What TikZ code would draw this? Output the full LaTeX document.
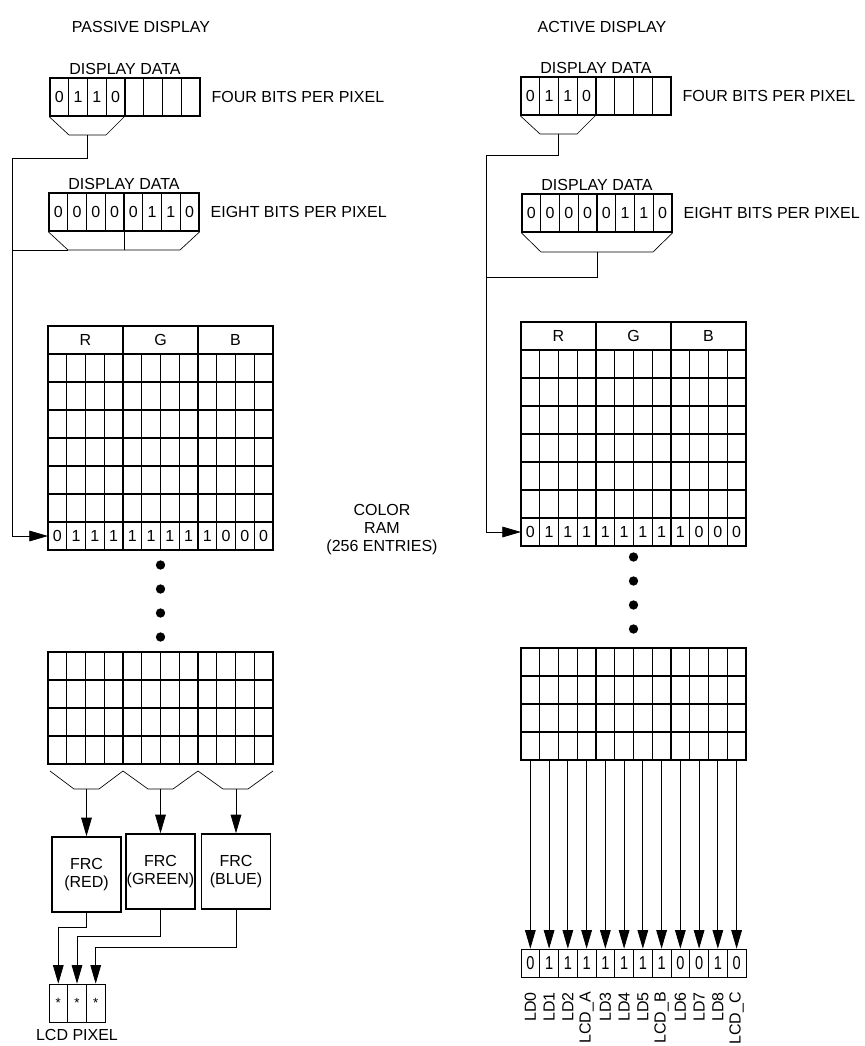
\documentclass[tikz,border=0pt]{standalone}
\usepackage{fontspec}
\setmainfont{Liberation Sans}
\newfontfamily\narrowfont[FakeStretch=0.78]{Liberation Sans}
\usetikzlibrary{arrows.meta, positioning}

\begin{document}
\begin{tikzpicture}[
  x=0.75pt, y=-0.75pt,
  txt/.style={font=\fontsize{12}{13.5}\selectfont, inner sep=0pt, align=center},
  bit/.style={font=\fontsize{12}{13}\selectfont, inner sep=0pt},
  heavy/.style={line width=1.1pt},
  fine/.style={line width=0.5pt},
  wire/.style={line width=0.6pt},
  feed/.style={wire, -{Triangle[length=14pt,width=8pt]}},
  regbox/.style={draw, heavy, inner sep=0pt, minimum width=112.5pt, minimum height=28.5pt},
  frcbox/.style={draw, heavy, txt, minimum width=51.75pt, minimum height=56.25pt},
  pixcell/.style={draw, fine, inner sep=0pt, minimum width=14pt, minimum height=28.5pt, font=\fontsize{10}{11}\selectfont},
  ldcell/.style={draw, fine, inner sep=0pt, font=\narrowfont\fontsize{14}{15}\selectfont, minimum width=14.06pt, minimum height=21pt},
  dotmark/.style={circle, fill, inner sep=0pt, minimum size=7pt}
]
\useasboundingbox (0,0) rectangle (864,1046);

% ---- passive display ----
\node[txt] (ptitle) at (141,27) {PASSIVE DISPLAY};

\node[regbox] (p4) at (125,97) {};
\node[txt, above=2pt of p4] (p4name) {DISPLAY DATA};
\node[txt, right=8pt of p4] (p4note) {FOUR BITS PER PIXEL};
\draw[fine] \foreach \i in {1,...,7} {(50+18.75*\i,78) -- ++(0,38)};
\draw[heavy] (125,78) -- (125,116);
\foreach \b [count=\i] in {0,1,1,0}
  \node[bit] (p4b\i) at (40.6+18.75*\i,97) {\b};
\coordinate (p4stem) at (87,135);
\draw[fine] (p4.south west) -- (69,135) -- (106,135) -- (125,116);

\node[regbox] (p8) at (124,212) {};
\node[txt, above=2pt of p8] (p8name) {DISPLAY DATA};
\node[txt, right=8pt of p8] (p8note) {EIGHT BITS PER PIXEL};
\draw[fine] \foreach \i in {1,...,7} {(49+18.75*\i,193) -- ++(0,38)};
\draw[heavy] (p8.north) -- (p8.south);
\foreach \b [count=\i] in {0,0,0,0,0,1,1,0}
  \node[bit] (p8b\i) at (39.6+18.75*\i,212) {\b};
\coordinate (p8cor) at (68,250);
\draw[fine] (p8.south west) -- (p8cor) -- (180,250) -- (p8.south east);
\draw[fine] (p8.south) -- (p8.south |- p8cor);

% feed into the colour ram
\coordinate (pbus) at (12,158);
\coordinate (pin) at (48,536);
\draw[feed] (p4stem) |- (pbus) |- (pin);
\draw[wire] (p8cor) -- (p8cor -| pbus);

% colour ram, top part
\draw[fine] \foreach \i in {1,...,11} {(48+18.75*\i,354) -- ++(0,196)};
\draw[heavy] \foreach \j in {1,...,7} {(48,326+28*\j) -- ++(225,0)};
\draw[heavy] (48,326) rectangle (273,550) (123,326) -- (123,550) (198,326) -- (198,550);
\node[txt] (pred) at (85.5,340) {R};
\node[txt] (pgreen) at (160.5,340) {G};
\node[txt] (pblue) at (235.5,340) {B};
\foreach \b [count=\i] in {0,1,1,1,1,1,1,1,1,0,0,0}
  \node[bit] (pe\i) at (38.6+18.75*\i,536) {\b};
\foreach \k in {1,...,4}
  \node[dotmark] (pdot\k) at (160.5,541+24*\k) {};

% colour ram, bottom part
\draw[fine] \foreach \i in {1,...,11} {(48+18.75*\i,652) -- ++(0,112)};
\draw[heavy] \foreach \j in {1,...,3} {(48,652+28*\j) -- ++(225,0)};
\draw[heavy] (48,652) rectangle (273,764) (123,652) -- (123,764) (198,652) -- (198,764);
\draw[fine] (50,771) -- (74,789) -- (99,789) -- (123,771) -- (148,789) -- (173,789)
  -- (198,771) -- (223,789) -- (248,789) -- (273,771);
\coordinate (pzr) at (86.5,789);
\coordinate (pzg) at (160.5,789);
\coordinate (pzb) at (236,789);

\node[frcbox] (frcr) at (86.5,874.5) {FRC\\(RED)};
\node[frcbox] (frcg) at (160.5,871.5) {FRC\\(GREEN)};
\node[frcbox] (frcb) at (236,871.5) {FRC\\(BLUE)};
\draw[feed] (pzr) -- (frcr);
\draw[feed] (pzg) -- (frcg);
\draw[feed] (pzb) -- (frcb);

\node[pixcell] (lcd1) at (58.3,1003) {*};
\node[pixcell] (lcd2) at (77,1003) {*};
\node[pixcell] (lcd3) at (95.7,1003) {*};
\node[txt, below=5pt of lcd2] (lcdname) {LCD PIXEL};
\draw[feed] (frcr.south) -- ++(0,15) -| (lcd1.north);
\draw[feed] (frcg.south) -- ++(0,27) -| (lcd2.north);
\draw[feed] (frcb.south) -- ++(0,38) -| (lcd3.north);

\node[txt] (ramname) at (382,530) {COLOR\\RAM\\(256 ENTRIES)};

% ---- active display ----
\node[txt] (atitle) at (602,27) {ACTIVE DISPLAY};

\node[regbox] (a4) at (596,96) {};
\node[txt, above=2pt of a4] (a4name) {DISPLAY DATA};
\node[txt, right=8pt of a4] (a4note) {FOUR BITS PER PIXEL};
\draw[fine] \foreach \i in {1,...,7} {(521+18.75*\i,77) -- ++(0,38)};
\draw[heavy] (596,77) -- (596,115);
\foreach \b [count=\i] in {0,1,1,0}
  \node[bit] (a4b\i) at (511.6+18.75*\i,96) {\b};
\coordinate (a4stem) at (558.5,134);
\draw[fine] (a4.south west) -- (540,134) -- (577,134) -- (596,115);

\node[regbox] (a8) at (597,213) {};
\node[txt, above=2pt of a8] (a8name) {DISPLAY DATA};
\node[txt, right=8pt of a8] (a8note) {EIGHT BITS PER PIXEL};
\draw[fine] \foreach \i in {1,...,7} {(522+18.75*\i,194) -- ++(0,38)};
\draw[heavy] (a8.north) -- (a8.south);
\foreach \b [count=\i] in {0,0,0,0,0,1,1,0}
  \node[bit] (a8b\i) at (512.6+18.75*\i,213) {\b};
\coordinate (a8stem) at (597,252);
\draw[fine] (a8.south west) -- (541,252) -- (653,252) -- (a8.south east);

\coordinate (abus) at (486,155);
\coordinate (abus8) at (486,277);
\coordinate (ain) at (521,532);
\draw[feed] (a4stem) |- (abus) |- (ain);
\draw[wire] (a8stem) |- (abus8);

% colour ram, top part
\draw[fine] \foreach \i in {1,...,11} {(521+18.75*\i,350) -- ++(0,196)};
\draw[heavy] \foreach \j in {1,...,7} {(521,322+28*\j) -- ++(225,0)};
\draw[heavy] (521,322) rectangle (746,546) (596,322) -- (596,546) (671,322) -- (671,546);
\node[txt] (ared) at (558.5,336) {R};
\node[txt] (agreen) at (633.5,336) {G};
\node[txt] (ablue) at (708.5,336) {B};
\foreach \b [count=\i] in {0,1,1,1,1,1,1,1,1,0,0,0}
  \node[bit] (ae\i) at (511.6+18.75*\i,532) {\b};
\foreach \k in {1,...,4}
  \node[dotmark] (adot\k) at (633.5,533+24*\k) {};

% colour ram, bottom part
\draw[fine] \foreach \i in {1,...,11} {(521+18.75*\i,648) -- ++(0,112)};
\draw[heavy] \foreach \j in {1,...,3} {(521,648+28*\j) -- ++(225,0)};
\draw[heavy] (521,648) rectangle (746,760) (596,648) -- (596,760) (671,648) -- (671,760);
\coordinate (arambot) at (521,760);

\foreach \b [count=\i] in {0,1,1,1,1,1,1,1,0,0,1,0}
  \node[ldcell] (ld\i) at (511.6+18.75*\i,963) {\b};
\foreach \i in {1,...,12}
  \draw[feed] (ld\i.north |- arambot) -- (ld\i.north);
\foreach \t [count=\i] in {LD0,LD1,LD2,LCD\_A,LD3,LD4,LD5,LCD\_B,LD6,LD7,LD8,LCD\_C}
  \node[txt, rotate=90, anchor=east] (ldn\i) at (511.6+18.75*\i,992) {\t};
\end{tikzpicture}
\end{document}
